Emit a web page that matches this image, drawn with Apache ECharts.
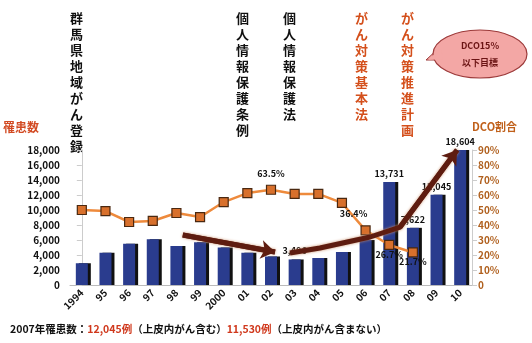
<!DOCTYPE html>
<html><head><meta charset="utf-8">
<script src="https://cdn.jsdelivr.net/npm/echarts@6/dist/echarts.min.js"></script>
<style>html,body{margin:0;padding:0;background:#fff}#c{width:532px;height:343px}</style>
</head><body><div id="c"></div>
<script>
// ---- data ----
const categories = ['1994','95','96','97','98','99','2000','01','02','03','04','05','06','07','08','09','10'];
const incidence = [2900, 4300, 5500, 6100, 5200, 5700, 5000, 4300, 3800, 3406, 3600, 4400, 6000, 13731, 7622, 12045, 18000];
const barLabelText = ['', '', '', '', '', '', '', '', '', '3,406', '', '', '', '13,731', '7,622', '12,045', '18,604'];
const dcoRate = [50.0, 49.3, 42.0, 42.7, 48.0, 45.3, 55.3, 61.3, 63.5, 60.7, 60.7, 54.7, 36.4, 26.7, 21.7, null, null];
const dcoLabelText = ['', '', '', '', '', '', '', '', '63.5%', '', '', '', '36.4%', '26.7%', '21.7%', '', ''];
const trendDown = [[4.27, 6670], [8.17, 4400]];
const trendUp = [[8.8, 4270], [10.07, 4930], [12.19, 6400], [13.46, 7730], [15.87, 18000]];
const eventTexts = ['群馬県地域がん登録', '個人情報保護条例', '個人情報保護法', 'がん対策基本法', 'がん対策推進計画'];
const bubbleLines = ['DCO15%', '以下目標'];
const leftAxisName = '罹患数';
const rightAxisName = 'DCO割合';
const footnote = ['2007年罹患数：', '12,045例', '（上皮内がん含む）', '11,530例', '（上皮内がん含まない）'];

// ---- layout / styles ----
const FONT = '"Noto Sans CJK JP", "DejaVu Sans", sans-serif';
const eventX = [77, 243, 290, 362, 408];
const eventColor = ['#111', '#111', '#111', '#d4501c', '#d4501c'];

const chart = echarts.init(document.getElementById('c'), null, {renderer: 'canvas'});

const vert = s => s.split('').join('\n');

const graphics = eventTexts.map((t, i) => ({
  type: 'text', left: eventX[i] - 7, top: 10,
  style: {text: vert(t), fill: eventColor[i], font: 'bold 13px ' + FONT, lineHeight: 16}
}));
graphics.push(
  {type: 'text', left: 3, top: 121, style: {text: leftAxisName, fill: '#d24a22', font: 'bold 12px ' + FONT}},
  {type: 'text', left: 472, top: 121, style: {text: rightAxisName, fill: '#c0601a', font: 'bold 11px ' + FONT}},
  {type: 'polygon', shape: {points: [[440, 47], [426, 60], [442, 60]]},
   style: {fill: '#f3a7a5', stroke: '#9c3a3a', lineWidth: 1}},
  {type: 'ellipse', shape: {cx: 480, cy: 54, rx: 47, ry: 24},
   style: {fill: '#f3a7a5', stroke: '#9c3a3a', lineWidth: 1.2}},
  {type: 'polygon', shape: {points: [[441, 48], [428, 60], [443, 59]]},
   style: {fill: '#f3a7a5'}},
  {type: 'text', x: 480, y: 46,
   style: {text: bubbleLines[0], fill: '#6b1414', font: 'bold 9px ' + FONT, align: 'center', verticalAlign: 'middle'}},
  {type: 'text', x: 480, y: 63,
   style: {text: bubbleLines[1], fill: '#6b1414', font: 'bold 9px ' + FONT, align: 'center', verticalAlign: 'middle'}},
  {type: 'text', left: 10, top: 324,
   style: {
     text: '{b|' + footnote[0] + '}{r|' + footnote[1] + '}{b|' + footnote[2] + '}{r|' + footnote[3] + '}{b|' + footnote[4] + '}',
     rich: {
       b: {fill: '#111', font: 'bold 10.5px ' + FONT},
       r: {fill: '#d0381c', font: 'bold 10.5px ' + FONT}
     }
   }}
);

const option = {
  backgroundColor: '#fff',
  animation: false,
  grid: {left: 70, right: 60, top: 150, bottom: 58},
  xAxis: [{
    type: 'category', data: categories,
    axisLine: {lineStyle: {color: '#bbb'}},
    axisTick: {show: false},
    axisLabel: {rotate: 45, color: '#111', fontWeight: 'bold', fontSize: 10, fontFamily: FONT, margin: 6, interval: 0}
  }, {
    type: 'value', min: -0.5, max: 16.5, show: false
  }],
  yAxis: [{
    type: 'value', min: 0, max: 18000, interval: 2000,
    axisLine: {show: true, lineStyle: {color: '#ccc'}},
    axisTick: {show: true, lineStyle: {color: '#ccc'}},
    splitLine: {show: false},
    axisLabel: {color: '#111', fontWeight: 'bold', fontSize: 10, fontFamily: FONT, margin: 10,
      formatter: v => v.toLocaleString('en-US')}
  }, {
    type: 'value', min: 0, max: 90, interval: 10,
    axisLine: {show: true, lineStyle: {color: '#ccc'}},
    axisTick: {show: true, lineStyle: {color: '#ccc'}},
    splitLine: {show: false},
    axisLabel: {color: '#b0601e', fontWeight: 'bold', fontSize: 10, fontFamily: FONT, margin: 6,
      formatter: v => v === 0 ? '0' : v + '%'}
  }],
  series: [{
    type: 'bar', data: incidence, barWidth: 12, z: 2,
    itemStyle: {color: '#2a3c8e', shadowColor: '#111', shadowOffsetX: 3, shadowOffsetY: 0, shadowBlur: 0},
    label: {show: true, position: 'top', distance: 4, color: '#111', fontWeight: 'bold', fontSize: 9, fontFamily: FONT,
      formatter: p => barLabelText[p.dataIndex]}
  }, {
    type: 'line', data: dcoRate, yAxisIndex: 1, z: 3,
    symbol: 'rect', symbolSize: 9,
    lineStyle: {color: '#ee8a3c', width: 2.5},
    itemStyle: {color: '#d8702c', borderColor: '#4a2810', borderWidth: 1.2},
    label: {show: true, color: '#111', fontWeight: 'bold', fontSize: 9, fontFamily: FONT,
      position: 'top', distance: 7,
      formatter: p => dcoLabelText[p.dataIndex]},
    labelLayout: p => (p.dataIndex >= 13 ? {dy: 26} : (p.dataIndex === 12 ? {dx: -12, dy: 0} : {}))
  }, {
    type: 'line', data: trendDown, xAxisIndex: 1, yAxisIndex: 0, z: 4,
    symbol: 'none',
    lineStyle: {color: '#5e1c10', width: 5, shadowColor: '#c9906c', shadowBlur: 3},
    markLine: {silent: true, symbol: ['none', 'arrow'], symbolSize: 14, label: {show: false},
      lineStyle: {color: '#5e1c10', width: 5, type: 'solid'},
      data: [[{coord: trendDown[0]}, {coord: trendDown[1]}]]}
  }, {
    type: 'line', data: trendUp, xAxisIndex: 1, yAxisIndex: 0, z: 4,
    symbol: 'none',
    lineStyle: {color: '#5e1c10', width: 5, shadowColor: '#c9906c', shadowBlur: 3},
    markLine: {silent: true, symbol: ['none', 'arrow'], symbolSize: 14, label: {show: false},
      lineStyle: {color: '#5e1c10', width: 5, type: 'solid'},
      data: [[{coord: trendUp[trendUp.length - 2]}, {coord: trendUp[trendUp.length - 1]}]]}
  }],
  graphic: graphics
};
chart.setOption(option);
</script>
</body></html>
